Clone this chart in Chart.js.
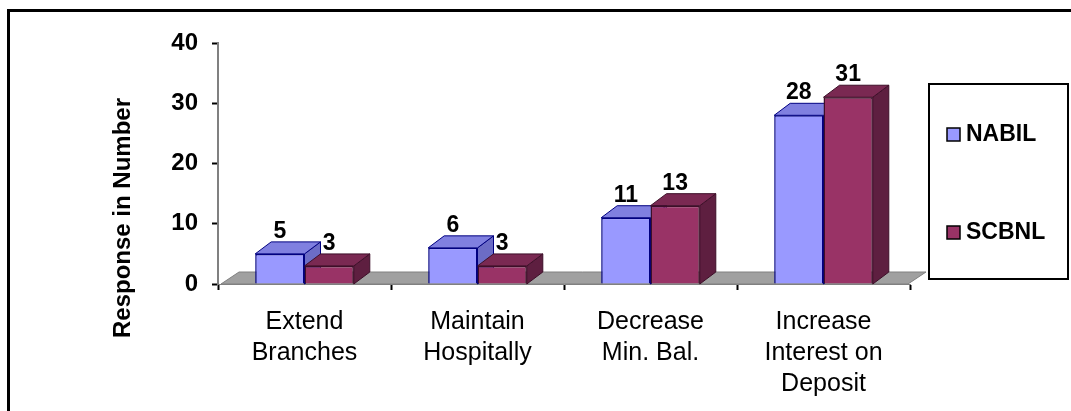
<!DOCTYPE html>
<html>
<head>
<meta charset="utf-8">
<script src="https://cdn.jsdelivr.net/npm/chart.js@4.4.1/dist/chart.umd.min.js"></script>
<style>
  html, body { margin: 0; padding: 0; background: #ffffff; }
  canvas { display: block; }
</style>
</head>
<body>
<canvas id="responseChart" width="1071" height="411"></canvas>
<script>
// Chart data
const categories = [
  ["Extend", "Branches"],
  ["Maintain", "Hospitally"],
  ["Decrease", "Min. Bal."],
  ["Increase", "Interest on", "Deposit"],
];
const seriesNames = ["NABIL", "SCBNL"];
const nabilValues = [5, 6, 11, 28];
const scbnlValues = [3, 3, 13, 31];
const yTicks = [0, 10, 20, 30, 40];

const FONT = "'Liberation Sans', Arial, sans-serif";

// Face colours: front, top, side, edge
const frontColors = ["#9999ff", "#993366"];
const topColors = ["#8080e0", "#7a2952"];
const sideColors = ["#6c6cc6", "#5e1f40"];
const edgeColors = ["#000080", "#3d0f28"];

const depthX = 16;
const depthY = 12;

function fillPoly(ctx, pts, fill, stroke) {
  ctx.beginPath();
  ctx.moveTo(pts[0][0], pts[0][1]);
  for (let i = 1; i < pts.length; i++) ctx.lineTo(pts[i][0], pts[i][1]);
  ctx.closePath();
  ctx.fillStyle = fill;
  ctx.fill();
  ctx.lineWidth = 1;
  ctx.strokeStyle = stroke;
  ctx.stroke();
}

/* =========================
   3D PLUGIN
========================= */

const threeD = {
  id: "threeD",
  beforeDatasetsDraw(chart) {
    const { ctx, chartArea, scales } = chart;
    const base = scales.y.getPixelForValue(0);

    ctx.save();
    // floor
    fillPoly(
      ctx,
      [
        [chartArea.left + 3, base],
        [chartArea.right - 2, base],
        [chartArea.right + depthX, base - depthY],
        [chartArea.left + 5 + depthX, base - depthY],
      ],
      "#a0a0a0",
      "#808080"
    );

    // top and side faces, drawn before the fronts so the next bar hides them
    categories.forEach((cat, i) => {
      chart.data.datasets.forEach((ds, d) => {
        const bar = chart.getDatasetMeta(d).data[i];
        const left = bar.x - bar.width / 2;
        const right = bar.x + bar.width / 2;
        const top = bar.y;
        fillPoly(
          ctx,
          [
            [right, top],
            [right + depthX, top - depthY],
            [right + depthX, base - depthY],
            [right, base],
          ],
          sideColors[d],
          edgeColors[d]
        );
        fillPoly(
          ctx,
          [
            [left, top],
            [right, top],
            [right + depthX, top - depthY],
            [left + depthX, top - depthY],
          ],
          topColors[d],
          edgeColors[d]
        );
      });
    });
    ctx.restore();
  },

  afterDatasetsDraw(chart) {
    const { ctx } = chart;
    ctx.save();
    ctx.font = "bold 23px " + FONT;
    ctx.fillStyle = "#000";
    ctx.textAlign = "center";
    ctx.textBaseline = "alphabetic";
    chart.data.datasets.forEach((ds, d) => {
      chart.getDatasetMeta(d).data.forEach((bar, i) => {
        ctx.fillText(String(ds.data[i]), bar.x, bar.y - depthY - 4);
      });
    });
    ctx.restore();
  },

  afterDraw(chart) {
    const { ctx } = chart;
    ctx.save();

    // axis title
    ctx.translate(123, 218);
    ctx.rotate(-Math.PI / 2);
    ctx.font = "bold 24px " + FONT;
    ctx.fillStyle = "#000";
    ctx.textAlign = "center";
    ctx.textBaseline = "middle";
    ctx.fillText("Response in Number", 0, 0);
    ctx.setTransform(1, 0, 0, 1, 0, 0);

    // legend box
    ctx.lineWidth = 2;
    ctx.strokeStyle = "#000";
    ctx.strokeRect(929, 84, 139, 195);
    const legendY = [134, 232];
    chart.data.datasets.forEach((ds, d) => {
      ctx.fillStyle = frontColors[d];
      ctx.fillRect(947, legendY[d] - 6, 13, 13);
      ctx.lineWidth = 1.5;
      ctx.strokeStyle = "#000";
      ctx.strokeRect(947, legendY[d] - 6, 13, 13);
      ctx.font = "bold 23px " + FONT;
      ctx.fillStyle = "#000";
      ctx.textAlign = "left";
      ctx.textBaseline = "middle";
      ctx.fillText(ds.label, 966, legendY[d] + 1);
    });

    // outer frame
    ctx.lineWidth = 3;
    ctx.strokeStyle = "#000";
    ctx.beginPath();
    ctx.moveTo(8.5, 411);
    ctx.lineTo(8.5, 10.5);
    ctx.lineTo(1071, 10.5);
    ctx.stroke();
    ctx.restore();
  },
};

/* =========================
   CHART
========================= */

const ctx = document.getElementById("responseChart").getContext("2d");

new Chart(ctx, {
  type: "bar",
  data: {
    labels: categories,
    datasets: [
      {
        label: seriesNames[0],
        data: nabilValues,
        backgroundColor: frontColors[0],
        borderColor: edgeColors[0],
        borderWidth: 1.5,
      },
      {
        label: seriesNames[1],
        data: scbnlValues,
        backgroundColor: frontColors[1],
        borderColor: edgeColors[1],
        borderWidth: 1.5,
      },
    ],
  },
  options: {
    responsive: false,
    animation: false,
    layout: { padding: { left: 0, top: 43, right: 161, bottom: 0 } },
    datasets: {
      bar: { categoryPercentage: 0.57, barPercentage: 1 },
    },
    plugins: {
      legend: { display: false },
      tooltip: { enabled: false },
    },
    scales: {
      x: {
        afterFit: (s) => { s.height = 127; },
        grid: { drawOnChartArea: false, tickLength: 6, tickColor: "#000", tickWidth: 2 },
        border: { color: "#808080", width: 1 },
        ticks: {
          color: "#000",
          padding: 17,
          font: { family: FONT, size: 25, lineHeight: 1.24 },
          maxRotation: 0,
          autoSkip: false,
        },
      },
      y: {
        min: yTicks[0],
        max: yTicks[yTicks.length - 1],
        afterFit: (s) => { s.width = 218; },
        afterBuildTicks: (s) => { s.ticks = yTicks.map((v) => ({ value: v })); },
        grid: { drawOnChartArea: false, tickLength: 6, tickColor: "#000", tickWidth: 2 },
        border: { color: "#808080", width: 2 },
        ticks: {
          color: "#000",
          padding: 14,
          font: { family: FONT, size: 24, weight: "bold" },
        },
      },
    },
  },
  plugins: [threeD],
});
</script>
</body>
</html>
